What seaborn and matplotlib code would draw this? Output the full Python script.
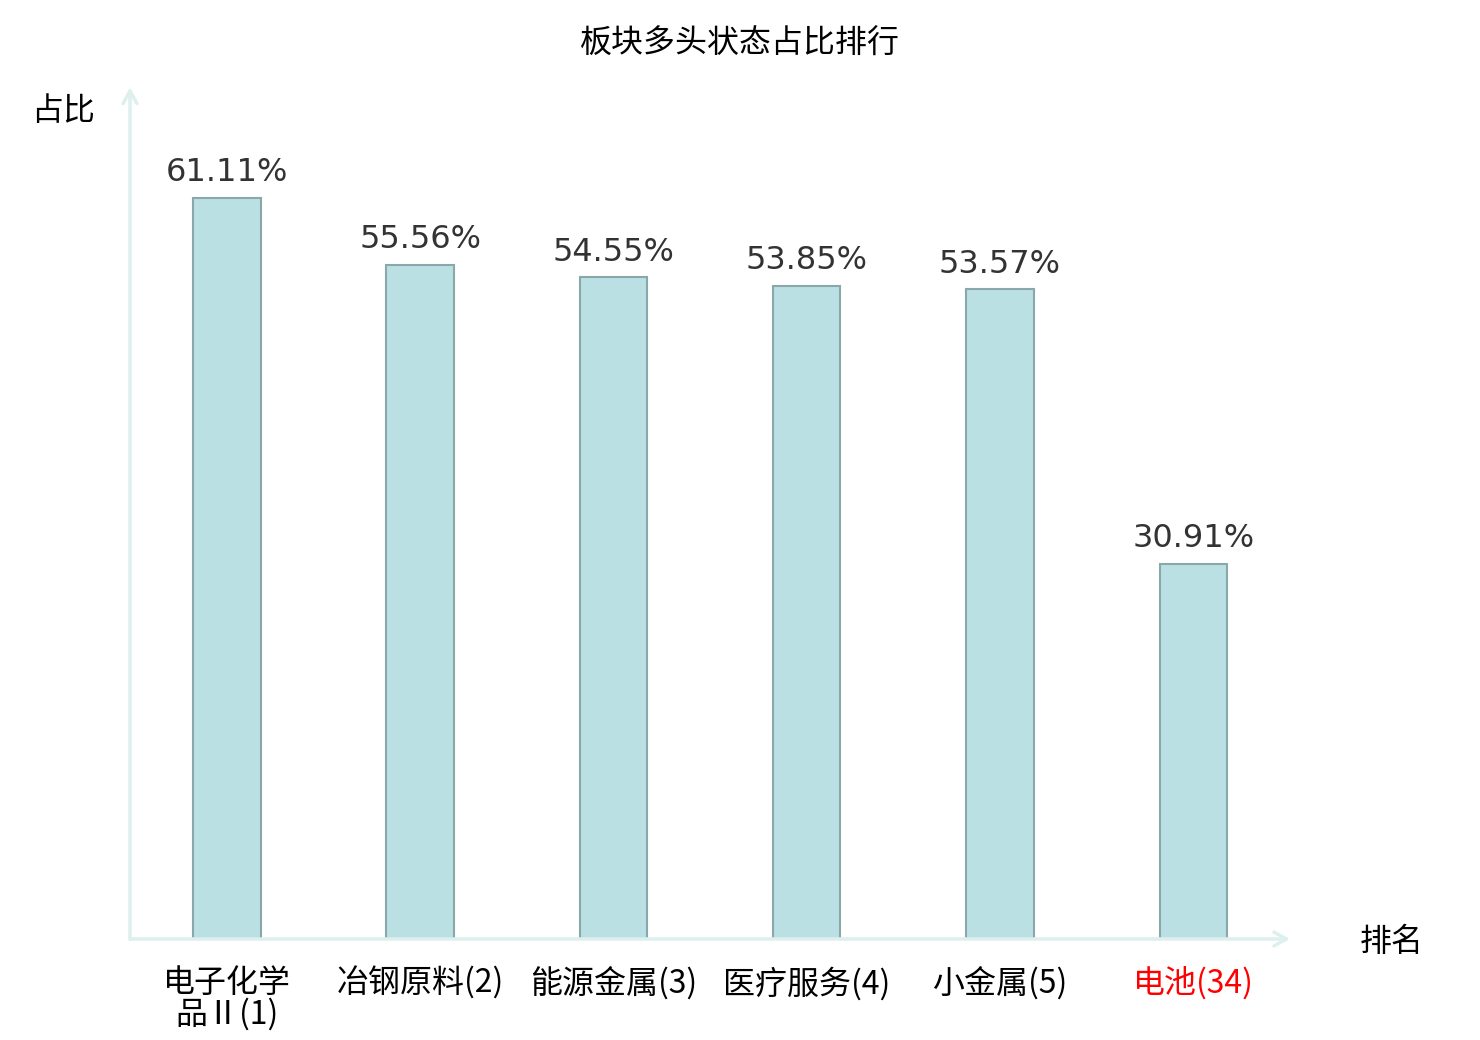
import matplotlib
matplotlib.use("Agg")
import matplotlib.pyplot as plt
import seaborn as sns
import pandas as pd

categories = ["电子化学\n品Ⅱ(1)", "冶钢原料(2)", "能源金属(3)", "医疗服务(4)", "小金属(5)", "电池(34)"]
values = [61.11, 55.56, 54.55, 53.85, 53.57, 30.91]
label_colors = ["#000000", "#000000", "#000000", "#000000", "#000000", "#FF0000"]
title = "板块多头状态占比排行"
y_name = "占比"
x_name = "排名"

sns.set_style("white")
plt.rcParams['font.family'] = ['Noto Sans CJK SC', 'DejaVu Sans']

df = pd.DataFrame({"cat": categories, "val": values})

fig = plt.figure(figsize=(14.8, 10.4), dpi=100)
ax = fig.add_axes([130/1480, 101/1040, 1160/1480, 849/1040])
sns.barplot(data=df, x="cat", y="val", color="#BBE0E3", width=0.35,
            edgecolor="#8AA8AA", linewidth=1.5, saturation=1, ax=ax)
ax.set_xlim(-0.5, 5.5)
ax.set_ylim(0, 70)
for s in ax.spines.values():
    s.set_visible(False)
ax.set_yticks([])
ax.set_xlabel("")
ax.set_ylabel("")
ax.tick_params(axis="x", length=0, pad=20)
ax.set_xticks(range(len(categories)))
ax.set_xticklabels(categories, fontsize=23, linespacing=0.95)
for lbl, c in zip(ax.get_xticklabels(), label_colors):
    lbl.set_color(c)
    lbl.set_verticalalignment("top")

ax.bar_label(ax.containers[0], labels=[f"{v:.2f}%" for v in values],
             padding=7, fontsize=23, color="#333333", family="DejaVu Sans")

axis_color = "#DDF0EE"
ax.annotate("", xy=(1.0, 0), xytext=(0, 0), xycoords="axes fraction",
            arrowprops=dict(arrowstyle="->,head_length=0.9,head_width=0.5",
                            color=axis_color, lw=2.5, shrinkA=0, shrinkB=0),
            annotation_clip=False)
ax.annotate("", xy=(0, 1.003), xytext=(0, 0), xycoords="axes fraction",
            arrowprops=dict(arrowstyle="->,head_length=0.9,head_width=0.5",
                            color=axis_color, lw=2.5, shrinkA=0, shrinkB=0),
            annotation_clip=False)

fig.text(740/1480, 1 - 44/1040, title, ha="center", va="center", fontsize=23, color="#000000")
fig.text(63/1480, 1 - 111/1040, y_name, ha="center", va="center", fontsize=23, color="#000000")
fig.text(1360/1480, 1 - 942/1040, x_name, ha="left", va="center", fontsize=23, color="#000000")

fig.savefig("out.png", dpi=100)
